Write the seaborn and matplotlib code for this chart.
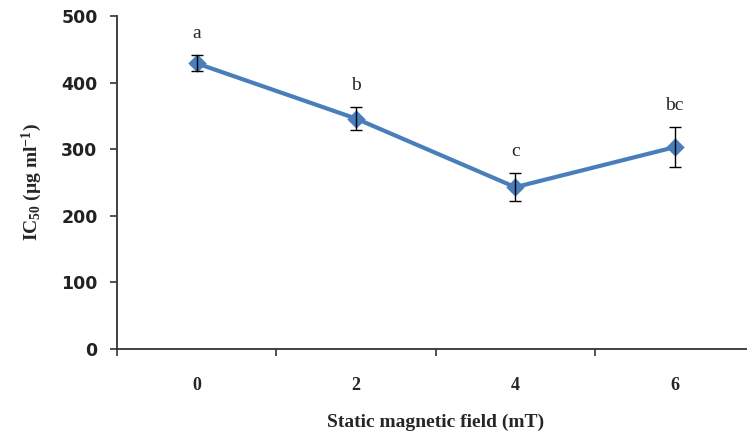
import matplotlib
matplotlib.use("Agg")
import matplotlib.pyplot as plt
import pandas as pd
import seaborn as sns

# values
field = ["0", "2", "4", "6"]
ic50 = [429, 346, 243, 303]
err = [12, 17, 21, 30]
letters = ["a", "b", "c", "bc"]

data = pd.DataFrame({"field": field, "ic50": ic50})

sns.set_style("white")
plt.rcParams["mathtext.fontset"] = "custom"
plt.rcParams["mathtext.rm"] = "Liberation Serif:bold"
plt.rcParams["mathtext.it"] = "Liberation Serif:bold"
plt.rcParams["mathtext.bf"] = "Liberation Serif:bold"

fig = plt.figure(figsize=(7.47, 4.36), dpi=100)
ax = fig.add_axes([0.1566, 0.1995, 0.853, 0.7638])

blue = "#4a7ebb"
sns.pointplot(data=data, x="field", y="ic50", order=field, color=blue,
              markers="D", markersize=7, linewidth=3, ax=ax, errorbar=None)
ax.errorbar(range(len(field)), ic50, yerr=err, fmt="none", ecolor="black",
            elinewidth=1, capsize=4, capthick=1, zorder=5)

for i, (v, e, t) in enumerate(zip(ic50, err, letters)):
    ax.text(i, v + e + 20, t, ha="center", va="bottom", fontsize=14,
            family="Liberation Serif")

ax.set_xlim(-0.5, 3.5)
ax.set_ylim(0, 500)
ax.set_yticks(range(0, 501, 100))
ax.set_xticks(range(len(field)))
ax.set_xticklabels(field)
ax.set_xticks([-0.5, 0.5, 1.5, 2.5, 3.5], minor=True)
ax.tick_params(axis="x", which="major", length=0, pad=20)
ax.tick_params(axis="x", which="minor", bottom=True, length=5, direction="out",
               width=1.2, color="#333333")
ax.tick_params(axis="y", left=True, length=5, direction="out", width=1.2,
               color="#333333", pad=9)
ax.grid(False)

for lab in ax.get_xticklabels():
    lab.set_family("Liberation Serif")
    lab.set_fontweight("bold")
    lab.set_fontsize(13)
for lab in ax.get_yticklabels():
    lab.set_family("DejaVu Sans")
    lab.set_fontweight("bold")
    lab.set_fontsize(12.5)
    lab.set_color("#222222")

ax.set_xlabel("Static magnetic field (mT)", fontsize=14, fontweight="bold",
              family="Liberation Serif", labelpad=14)
ax.set_ylabel("IC$_{50}$ (µg ml$^{-1}$)", fontsize=14, fontweight="bold",
              family="Liberation Serif", labelpad=12)

sns.despine(ax=ax)
for s in ["left", "bottom"]:
    ax.spines[s].set_color("#333333")
    ax.spines[s].set_linewidth(1.3)

fig.savefig("out.png", dpi=100)
